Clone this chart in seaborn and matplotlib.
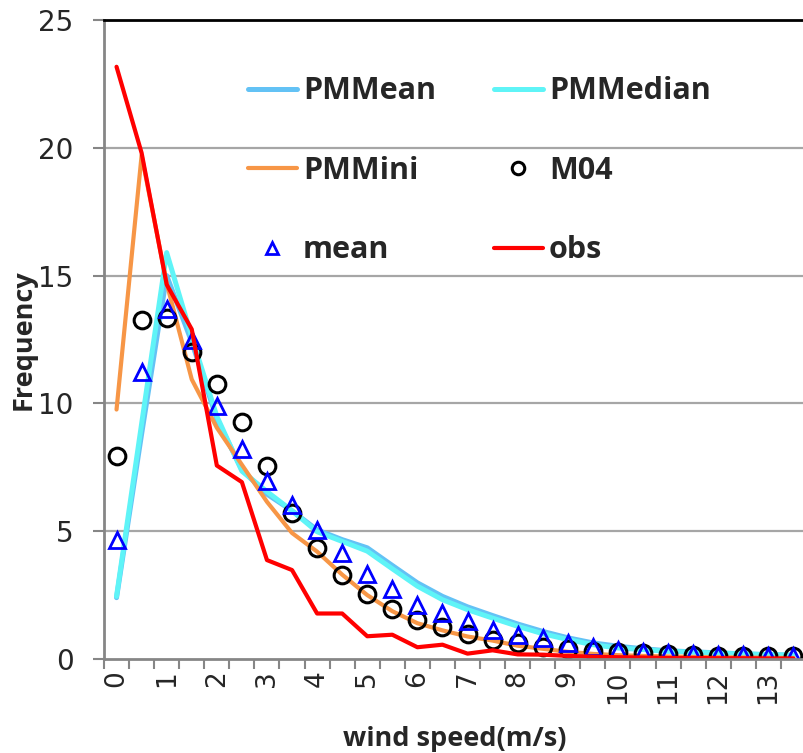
import pandas as pd
import seaborn as sns
import matplotlib.pyplot as plt
from matplotlib.ticker import FixedLocator, NullFormatter

# wind speed categories (m/s)
speed = [0, 0.5, 1, 1.5, 2, 2.5, 3, 3.5, 4, 4.5, 5, 5.5, 6, 6.5,
         7, 7.5, 8, 8.5, 9, 9.5, 10, 10.5, 11, 11.5, 12, 12.5, 13, 13.5]

pmmean = [2.4, 8.8, 15.0, 12.4, 9.4, 7.4, 6.45, 5.8, 5.05, 4.67, 4.35, 3.66, 2.98, 2.45,
          2.04, 1.7, 1.37, 1.08, 0.83, 0.63, 0.5, 0.4, 0.32, 0.28, 0.24, 0.2, 0.17, 0.15]
pmmedian = [2.45, 9.2, 15.9, 12.6, 9.5, 7.35, 6.55, 5.8, 4.98, 4.6, 4.22, 3.53, 2.85, 2.32,
            1.93, 1.6, 1.28, 0.99, 0.76, 0.56, 0.43, 0.37, 0.3, 0.27, 0.23, 0.2, 0.17, 0.15]
pmmini = [9.76, 19.7, 14.7, 10.94, 9.05, 7.6, 6.15, 4.93, 4.2, 3.3, 2.5, 1.87, 1.4, 1.12,
          0.88, 0.72, 0.52, 0.4, 0.28, 0.2, 0.15, 0.12, 0.1, 0.08, 0.07, 0.06, 0.05, 0.04]
m04 = [7.96, 13.26, 13.35, 12.0, 10.77, 9.26, 7.57, 5.72, 4.35, 3.3, 2.56, 1.97, 1.54, 1.24,
       0.99, 0.73, 0.63, 0.47, 0.4, 0.3, 0.26, 0.22, 0.2, 0.15, 0.13, 0.12, 0.1, 0.1]
mean = [4.67, 11.22, 13.7, 12.5, 9.89, 8.2, 6.96, 6.04, 5.06, 4.15, 3.33, 2.72, 2.13, 1.8,
        1.48, 1.12, 0.95, 0.82, 0.63, 0.47, 0.34, 0.26, 0.22, 0.2, 0.17, 0.15, 0.13, 0.12]
obs = [23.17, 19.8, 14.65, 12.9, 7.57, 6.92, 3.87, 3.48, 1.78, 1.78, 0.89, 0.95, 0.46, 0.56,
       0.21, 0.34, 0.18, 0.17, 0.12, 0.09, 0.07, 0.06, 0.04, 0.04, 0.03, 0.03, 0.02, 0.02]

xtick_labels = ["0", "1", "2", "3", "4", "5", "6", "7", "8", "9", "10", "11", "12", "13"]
yticks = [0, 5, 10, 15, 20, 25]

sns.set_style("white")
plt.rcParams["font.family"] = ["DejaVu Sans"]

df = pd.DataFrame({"speed": speed, "PMMean": pmmean, "PMMedian": pmmedian,
                   "PMMini": pmmini, "M04": m04, "mean": mean, "obs": obs})

fig = plt.figure(figsize=(8.04, 7.53), dpi=100)
ax = fig.add_axes([104 / 804, 1 - 659 / 753, 702 / 804, 639 / 753])

grid_c = "#a6a6a6"
for v in yticks[1:-1]:
    ax.axhline(v, color=grid_c, lw=1.6, zorder=0)

sns.lineplot(data=df, x="speed", y="PMMean", color="#63c2f5", lw=3.6, ax=ax, label="PMMean")
sns.lineplot(data=df, x="speed", y="PMMedian", color="#5ff4f7", lw=3.6, ax=ax, label="PMMedian")
sns.lineplot(data=df, x="speed", y="PMMini", color="#f79646", lw=3.0, ax=ax, label="PMMini")
sns.lineplot(data=df, x="speed", y="M04", ls="", marker="o", ms=12, mfc="none",
             mec="black", mew=2.2, ax=ax, label="M04")
sns.lineplot(data=df, x="speed", y="mean", ls="", marker="^", ms=12, mfc="none",
             mec="#0000ff", mew=2.0, ax=ax, label="mean")
sns.lineplot(data=df, x="speed", y="obs", color="#ff0000", lw=3.0, ax=ax, label="obs")

ax.set_xlim(-0.25, 13.75)
ax.set_ylim(0, 25)

# category labels on every second category, tick marks between categories
ax.set_xticks(list(range(14)))
ax.set_xticklabels(xtick_labels, rotation=90, fontsize=19)
ax.xaxis.set_minor_locator(FixedLocator([s - 0.25 for s in speed] + [13.75]))
ax.xaxis.set_minor_formatter(NullFormatter())
ax.tick_params(axis="x", which="major", length=0, pad=8)
ax.tick_params(axis="x", which="minor", length=7, width=1.5, color="#868686", bottom=True)
ax.set_yticks(yticks)
ax.tick_params(axis="y", which="major", length=8, width=1.5, color="#868686",
               labelsize=20, pad=14, left=True)

for side in ["left", "bottom"]:
    ax.spines[side].set_color("#868686")
    ax.spines[side].set_linewidth(2)
ax.spines["top"].set_color("black")
ax.spines["top"].set_linewidth(2)
ax.spines["right"].set_visible(False)

lab_font = dict(family="Open Sans", weight="bold", size=19.5)
ax.set_xlabel("wind speed(m/s)", fontdict=lab_font, labelpad=16)
ax.set_ylabel("Frequency", fontdict=lab_font, labelpad=1)

h, l = ax.get_legend_handles_labels()
order = ["PMMean", "PMMini", "mean", "PMMedian", "M04", "obs"]
hd = dict(zip(l, h))
ax.legend([hd[k] for k in order], order, ncol=2, loc="upper left",
          bbox_to_anchor=(0.205, 0.912), frameon=False,
          prop=dict(family="Open Sans", weight="bold", size=22),
          handlelength=1.6, handletextpad=0.2, columnspacing=1.9,
          labelspacing=1.62, borderpad=0, borderaxespad=0, markerscale=0.75)

fig.savefig("out.png", dpi=100)
